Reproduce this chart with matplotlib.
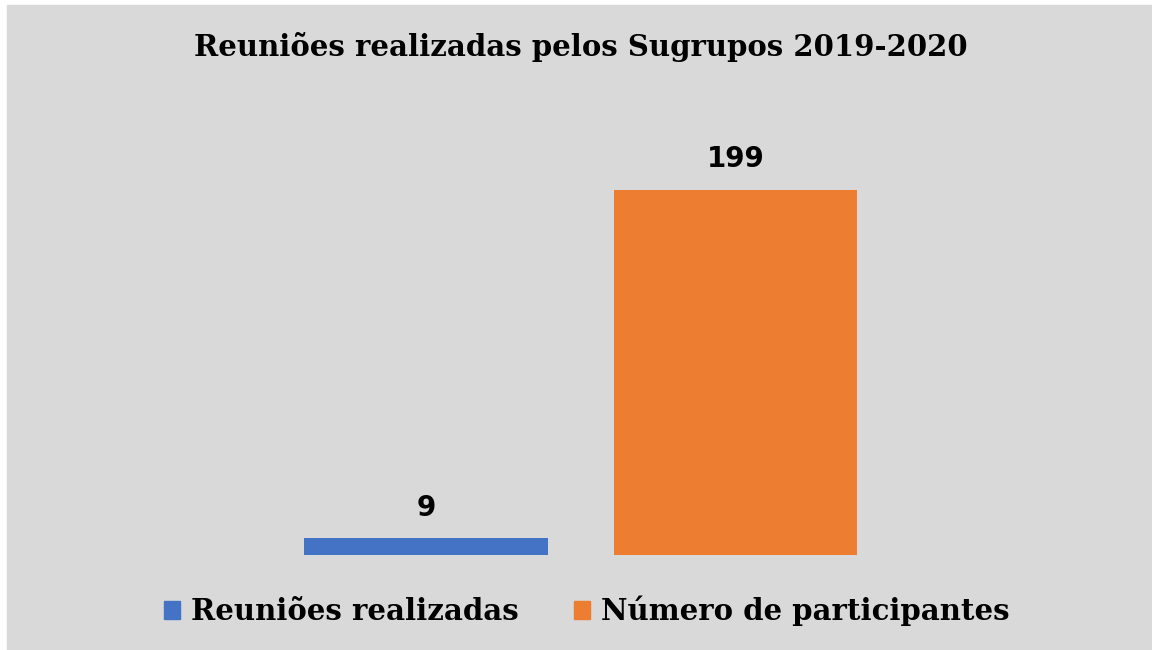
import matplotlib
matplotlib.use("Agg")
import matplotlib.pyplot as plt
import matplotlib.patches as mpatches

# data
series = ["Reuniões realizadas", "Número de participantes"]
values = [9, 199]
colours = ["#4472C4", "#ED7D31"]
title = "Reuniões realizadas pelos Sugrupos 2019-2020"

SERIF = "DejaVu Serif"

fig = plt.figure(figsize=(11.52, 6.5), dpi=100)
fig.patch.set_facecolor("white")
# grey chart area (white strip at left/top as in the reference)
fig.patches.append(mpatches.Rectangle((7 / 1152, 0), 1 - 7 / 1152, 1 - 5 / 650,
                                      transform=fig.transFigure, color="#D9D9D9",
                                      zorder=-10))

ax = fig.add_axes([240.3 / 1152, 95 / 650, 680.9 / 1152, 458.5 / 650])
ax.set_facecolor("none")
ax.set_xlim(-0.6, 1.6)
ax.set_ylim(0, 250)
for s in ax.spines.values():
    s.set_visible(False)
ax.set_xticks([])
ax.set_yticks([])

xs = range(len(values))
bars = ax.bar(xs, values, width=0.788, color=colours, edgecolor="none")
for x, v in zip(xs, values):
    ax.annotate(str(v), (x, v), xytext=(0, 12), textcoords="offset points",
                ha="center", va="bottom", fontsize=20, fontweight="bold",
                family="DejaVu Sans", color="black")

fig.text(581 / 1152, 1 - 47 / 650, title, ha="center", va="center",
         fontsize=21, fontweight="bold", family=SERIF, color="black")

handles = [mpatches.Patch(color=c, label=l) for c, l in zip(colours, series)]
fig.legend(handles=handles, loc="center", bbox_to_anchor=(587 / 1152, 1 - 611 / 650),
           ncol=2, frameon=False, handlelength=0.55, handleheight=0.55,
           handletextpad=0.38, columnspacing=1.9,
           prop={"family": SERIF, "weight": "bold", "size": 21})

fig.savefig("out.png", dpi=100, facecolor=fig.get_facecolor())
